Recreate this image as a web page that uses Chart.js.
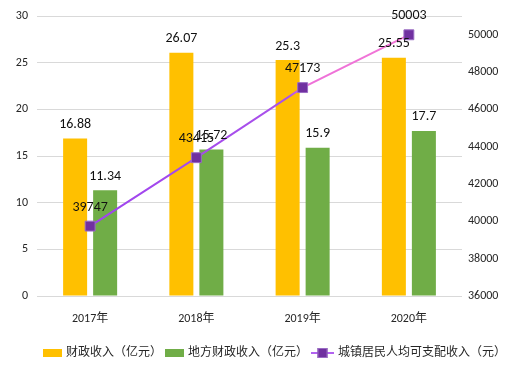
<!DOCTYPE html>
<html><head><meta charset="utf-8">
<script src="https://cdn.jsdelivr.net/npm/chart.js@4"></script>
<style>html,body{margin:0;padding:0;background:#fff}#wrap{width:531px;height:375px}</style>
</head><body><div id="wrap"><canvas id="c" width="531" height="375"></canvas></div>
<script>
const categories = ['2017年', '2018年', '2019年', '2020年'];
const fiscalRevenue = [16.88, 26.07, 25.3, 25.55];
const localFiscalRevenue = [11.34, 15.72, 15.9, 17.7];
const urbanIncome = [39747, 43415, 47173, 50003];
const seriesNames = ['财政收入（亿元）', '地方财政收入（亿元）', '城镇居民人均可支配收入（元）'];
const leftTicks = [0, 5, 10, 15, 20, 25, 30];
const rightTicks = [36000, 38000, 40000, 42000, 44000, 46000, 48000, 50000];

const FONT = 'Carlito, Lato, "Noto Sans CJK SC", sans-serif';
const YELLOW = '#FFC000', GREEN = '#70AD47', MARK = '#7030A0';
Chart.defaults.font.family = FONT;
Chart.defaults.color = '#262626';

function lineGradient(chart) {
  const a = chart.chartArea;
  if (!a) return '#a64fea';
  const g = chart.ctx.createLinearGradient(a.left, 0, a.right, 0);
  g.addColorStop(0, '#9c3ff0');
  g.addColorStop(0.59, '#aa52ea');
  g.addColorStop(0.64, '#ee70d8');
  g.addColorStop(1, '#f47bd6');
  return g;
}

const valueLabels = {
  id: 'valueLabels',
  afterDatasetsDraw(chart) {
    const ctx = chart.ctx;
    ctx.save();
    ctx.font = '14px ' + FONT;
    ctx.fillStyle = '#111';
    ctx.textAlign = 'center';
    ctx.textBaseline = 'middle';
    [0, 1].forEach(i => {
      chart.getDatasetMeta(i).data.forEach((el, j) => {
        ctx.fillText(String(chart.data.datasets[i].data[j]), el.x, el.y - 14);
      });
    });
    chart.getDatasetMeta(2).data.forEach((el, j) => {
      ctx.fillText(String(chart.data.datasets[2].data[j]), el.x, el.y - 19);
    });
    ctx.restore();
  }
};

const customLegend = {
  id: 'customLegend',
  afterDraw(chart) {
    const ctx = chart.ctx;
    ctx.save();
    ctx.font = '12px ' + FONT;
    ctx.textBaseline = 'middle';
    ctx.textAlign = 'left';
    const y = 353;
    const box = 19, gapText = 4, gapItem = 3;
    const widths = seriesNames.map(s => ctx.measureText(s).width);
    const boxes = [box, box, 23];
    let total = 0;
    widths.forEach((w, i) => { total += boxes[i] + gapText + w; });
    total += gapItem * 2;
    let x = 274.5 - total / 2;
    seriesNames.forEach((name, i) => {
      if (i < 2) {
        ctx.fillStyle = i === 0 ? YELLOW : GREEN;
        ctx.fillRect(x, y - 4, box, 8);
      } else {
        ctx.strokeStyle = '#b262f0';
        ctx.lineWidth = 2;
        ctx.beginPath(); ctx.moveTo(x, y); ctx.lineTo(x + boxes[i], y); ctx.stroke();
        ctx.fillStyle = MARK;
        ctx.fillRect(x + boxes[i] / 2 - 5, y - 5, 10, 10);
        ctx.strokeStyle = '#9a6cc4'; ctx.lineWidth = 1;
        ctx.strokeRect(x + boxes[i] / 2 - 5 + 0.5, y - 5 + 0.5, 9, 9);
      }
      x += boxes[i] + gapText;
      ctx.fillStyle = '#262626';
      ctx.fillText(name, x, y);
      x += widths[i] + gapItem;
    });
    ctx.restore();
  }
};

new Chart(document.getElementById('c'), {
  type: 'bar',
  data: {
    labels: categories,
    datasets: [
      { label: seriesNames[0], data: fiscalRevenue, backgroundColor: YELLOW, yAxisID: 'y',
        barPercentage: 0.8, categoryPercentage: 0.565, order: 1 },
      { label: seriesNames[1], data: localFiscalRevenue, backgroundColor: GREEN, yAxisID: 'y',
        barPercentage: 0.8, categoryPercentage: 0.565, order: 1 },
      { type: 'line', label: seriesNames[2], data: urbanIncome, yAxisID: 'y1', order: 0,
        borderColor: ctx => lineGradient(ctx.chart), borderWidth: 2, tension: 0,
        pointStyle: 'rect', pointRadius: 7, pointHoverRadius: 7,
        pointBackgroundColor: MARK, pointBorderColor: '#9a6cc4', pointBorderWidth: 1 }
    ]
  },
  options: {
    responsive: false,
    animation: false,
    devicePixelRatio: 1,
    layout: { padding: { top: 13, bottom: 49, left: 0, right: 0 } },
    plugins: { legend: { display: false }, tooltip: { enabled: false } },
    scales: {
      x: {
        grid: { display: false }, border: { display: false },
        ticks: { font: { size: 12 }, padding: 8, color: '#262626' },
        afterFit(s) { s.height = 30; }
      },
      y: {
        position: 'left', min: 0, max: 30,
        afterBuildTicks(s) { s.ticks = leftTicks.map(v => ({ value: v })); },
        grid: { color: '#d9d9d9', drawTicks: false }, border: { display: false },
        ticks: { font: { size: 12 }, padding: 9, color: '#262626', callback: v => String(v) },
        afterFit(s) { s.width = 37; }
      },
      y1: {
        position: 'right', min: 36000, max: 51000,
        afterBuildTicks(s) { s.ticks = rightTicks.map(v => ({ value: v })); },
        grid: { display: false, drawTicks: false }, border: { display: false },
        ticks: { font: { size: 12 }, padding: 6, color: '#262626', callback: v => String(v) },
        afterFit(s) { s.width = 69; }
      }
    }
  },
  plugins: [valueLabels, customLegend]
});
</script>
</body></html>
